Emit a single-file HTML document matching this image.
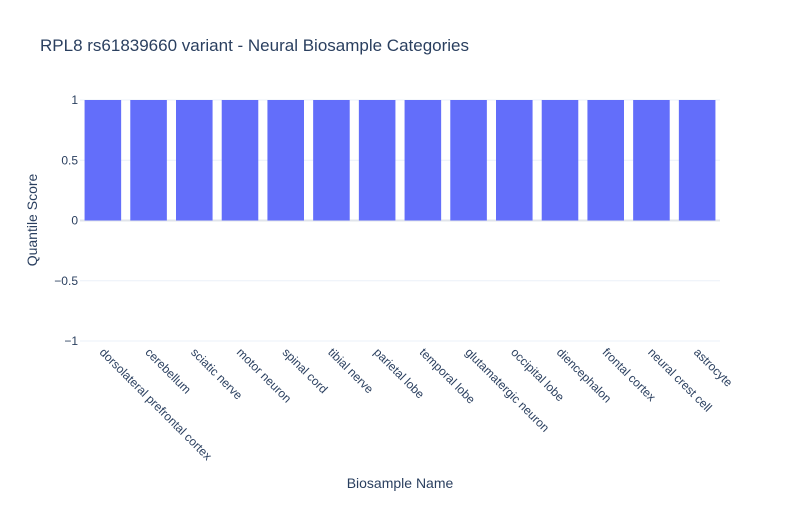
<!DOCTYPE html>
<html><head><meta charset="utf-8"><style>
body{margin:0;background:#fff;font-family:"Liberation Sans",Arial,sans-serif}
text{font-family:"Liberation Sans",Arial,sans-serif}
</style></head><body>
<svg id="chart" width="800" height="500">
<rect width="800" height="500" fill="#fff"/>
<text x="40" y="51" font-size="17" fill="#2a3f5f">RPL8 rs61839660 variant - Neural Biosample Categories</text>
<g id="grid"></g><g id="bars"></g><g id="xt"></g><g id="yt"></g>
<text x="400" y="488" font-size="14" fill="#2a3f5f" text-anchor="middle">Biosample Name</text>
<text transform="translate(37,220) rotate(-90)" font-size="14" fill="#2a3f5f" text-anchor="middle">Quantile Score</text>
</svg>
<script>
const categories=["dorsolateral prefrontal cortex","cerebellum","sciatic nerve","motor neuron","spinal cord","tibial nerve","parietal lobe","temporal lobe","glutamatergic neuron","occipital lobe","diencephalon","frontal cortex","neural crest cell","astrocyte"];
const values=[1,1,1,1,1,1,1,1,1,1,1,1,1,1];
const yTicks=[1,0.5,0,-0.5,-1];
const yTickLabels=["1","0.5","0","−0.5","−1"];
const NS="http://www.w3.org/2000/svg";
const L=80,R=720,T=100,B=341,yMin=-1,yMax=1;
const y=v=>B-(v-yMin)/(yMax-yMin)*(B-T);
const bw=(R-L)/categories.length;
const x=i=>L+bw*(i+0.5);
function mk(tag,attrs,parent){const e=document.createElementNS(NS,tag);for(const k in attrs)e.setAttribute(k,attrs[k]);document.getElementById(parent).appendChild(e);return e;}
yTicks.forEach((t,i)=>{
  const g=mk('line',{x1:L,x2:R,y1:y(t),y2:y(t),stroke:t===0?'#e0e4ea':'#ebf0f8','stroke-width':t===0?2:1},'grid');
  
  
  const tx=mk('text',{x:L-2,y:y(t)+4,'font-size':12,fill:'#2a3f5f','text-anchor':'end'},'yt');
  tx.textContent=yTickLabels[i];
  
  
});
categories.forEach((c,i)=>{
  const v=values[i];
  const r=mk('rect',{x:x(i)-bw*0.4,width:bw*0.8,y:Math.min(y(v),y(0)),height:Math.abs(y(v)-y(0)),fill:'#636efa'},'bars');
  
  
  const t=mk('text',{transform:`translate(${x(i)-4},${B+12}) rotate(45)`,'font-size':12,fill:'#2a3f5f'},'xt');
  t.textContent=c;
  
  
});
</script>
</body></html>
